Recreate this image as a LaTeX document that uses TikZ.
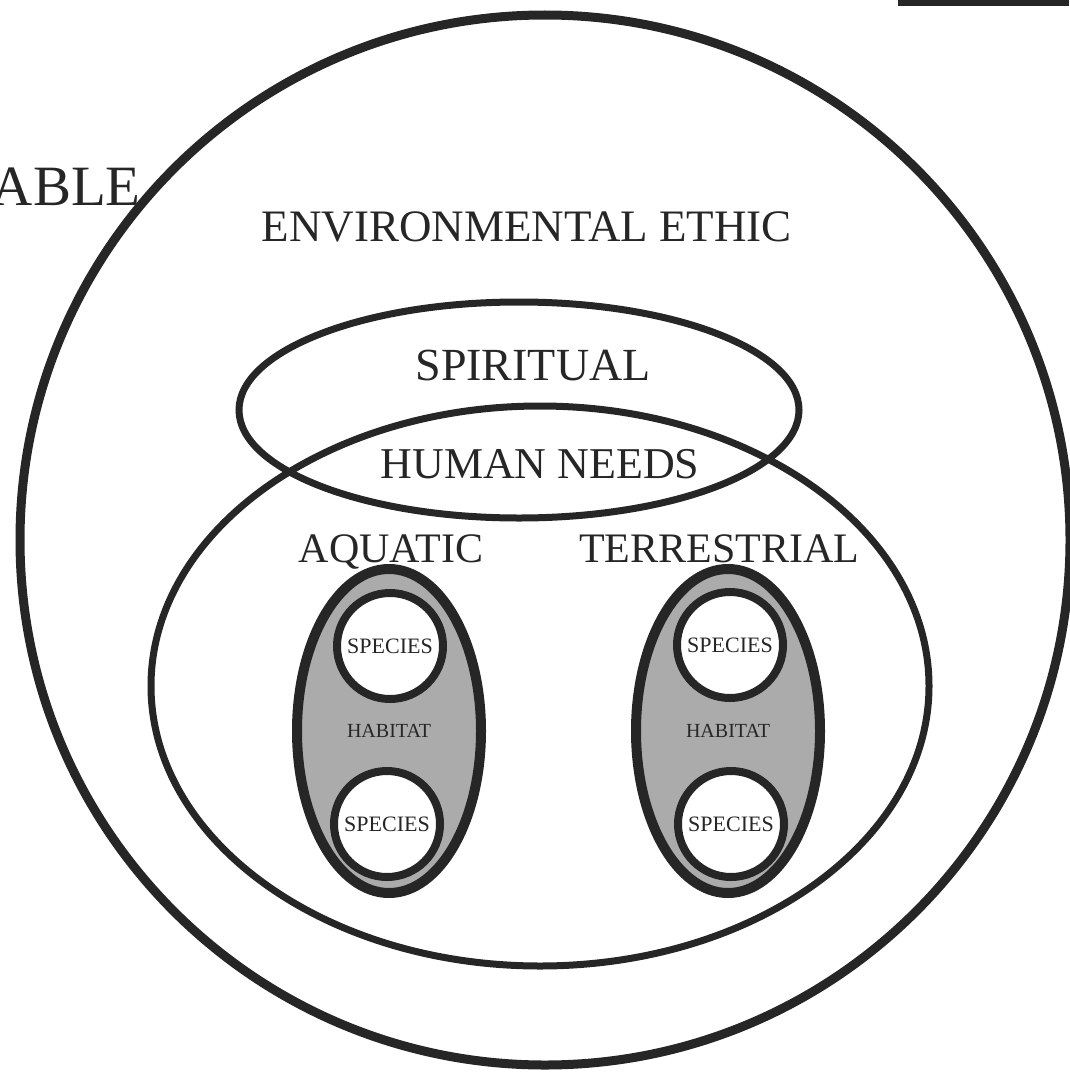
\documentclass[tikz,border=0pt]{standalone}
\usepackage{fontspec}
\setmainfont{Liberation Serif}
\usepackage{tikz}
\usetikzlibrary{shapes}
\definecolor{ink}{HTML}{262626}
\definecolor{halftone}{HTML}{ABABAB}
\tikzstyle{ring} = [draw=ink, ellipse, inner sep=0pt]
\tikzstyle{habitat} = [ring, line width=10pt, fill=halftone, minimum width=184pt, minimum height=324pt,
font=\fontsize{20}{22}\selectfont, text=ink]
\tikzstyle{species} = [ring, circle, line width=8pt, fill=white, minimum size=106pt,
font=\fontsize{22}{24}\selectfont, text=ink]
\tikzstyle{label} = [text=ink, anchor=base, inner sep=0pt]

\begin{document}
\begin{tikzpicture}[auto, x=1pt, y=-1pt]
	\useasboundingbox (0,0) rectangle (1069,1073);

	\node [ring, circle, line width=9pt, minimum size=1050pt] (ethic) at (545,540) {};
	\node [ring, line width=7pt, minimum width=778pt, minimum height=560pt] (needs) at (540,686) {};
	\node [ring, line width=7pt, minimum width=560pt, minimum height=216pt] (spiritual) at (519,410) {};

	\node [habitat] (aquatic habitat) at (389,731) {HABITAT};
	\node [habitat] (terrestrial habitat) at (728,731) {HABITAT};

	\node [species] (aquatic top) at (390,646) {SPECIES};
	\node [species] (aquatic bottom) at (387,824) {SPECIES};
	\node [species] (terrestrial top) at (730,645) {SPECIES};
	\node [species] (terrestrial bottom) at (731,824) {SPECIES};

	\node [label, font=\fontsize{45}{50}\selectfont] (ethic label) at (527,241) {ENVIRONMENTAL ETHIC};
	\node [label, font=\fontsize{46}{50}\selectfont] (spiritual label) at (533,380) {SPIRITUAL};
	\node [label, font=\fontsize{44}{50}\selectfont] (needs label) at (540,478) {HUMAN NEEDS};
	\node [label, font=\fontsize{42}{46}\selectfont] (aquatic label) at (391,562) {AQUATIC};
	\node [label, font=\fontsize{42}{46}\selectfont] (terrestrial label) at (719,562) {TERRESTRIAL};
	\node [label, anchor=base east, font=\fontsize{57}{60}\selectfont] (able) at (141,205) {ABLE};

	\fill [ink] (898,0) rectangle (1069,6);

\end{tikzpicture}
\end{document}
